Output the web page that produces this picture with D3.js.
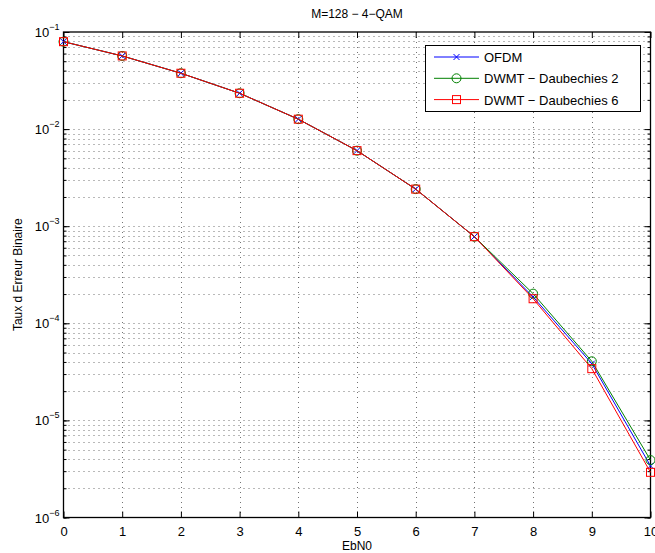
<!DOCTYPE html>
<html lang="fr">
<head>
<meta charset="UTF-8">
<title>M=128 - 4-QAM</title>
<script src="https://cdn.jsdelivr.net/npm/d3@7/dist/d3.min.js"></script>
<style>
  body { margin: 0; background: #fff; }
  svg { font-family: "Liberation Sans", Arial, sans-serif; }
  .grid line { stroke: #000; stroke-opacity: 0.55; stroke-dasharray: 1,4; }
</style>
</head>
<body>
<svg width="655" height="553"></svg>
<script>
// EbN0 values (dB)
var ebn0 = [0, 1, 2, 3, 4, 5, 6, 7, 8, 9, 10];
// bit error rate
var ofdm  = [0.0795, 0.0567, 0.0376, 0.0234, 0.01265, 0.0060, 0.00241, 7.8e-4, 1.87e-4, 3.84e-5, 3.4e-6];
var daub2 = [0.0795, 0.0567, 0.0376, 0.0234, 0.01265, 0.0060, 0.00241, 7.8e-4, 2.02e-4, 4.06e-5, 3.9e-6];
var daub6 = [0.0795, 0.0567, 0.0376, 0.0234, 0.01265, 0.0060, 0.00241, 7.8e-4, 1.79e-4, 3.41e-5, 2.92e-6];
var seriesNames = ["OFDM", "DWMT \u2212 Daubechies 2", "DWMT \u2212 Daubechies 6"];
var seriesColors = ["#0000ff", "#008000", "#ff0000"];
var seriesMarkers = ["x", "circle", "square"];
var yDecades = [-1, -2, -3, -4, -5, -6];

var svg = d3.select("svg");
var pLeft = 63.5, pRight = 650.5, pTop = 32, pBottom = 517.5;

var x = d3.scaleLinear().domain([0, 10]).range([pLeft, pRight]);
var y = d3.scaleLog().domain([1e-6, 1e-1]).range([pBottom, pTop]);

// minor ticks for the log axis
var minor = [];
for (var e = -6; e < -1; e++) {
  for (var m = 1; m < 10; m++) minor.push(m * Math.pow(10, e));
}
minor.push(1e-1);

// grid
var grid = svg.append("g").attr("class", "grid");
grid.selectAll(".gx").data(ebn0.slice(1, -1)).enter().append("line")
  .attr("x1", function(d) { return Math.round(x(d)) + 0.5; })
  .attr("x2", function(d) { return Math.round(x(d)) + 0.5; })
  .attr("y1", pTop).attr("y2", pBottom);
grid.selectAll(".gy").data(minor.slice(1, -1)).enter().append("line")
  .attr("y1", function(d) { return Math.round(y(d)) + 0.5; })
  .attr("y2", function(d) { return Math.round(y(d)) + 0.5; })
  .attr("x1", pLeft).attr("x2", pRight);

// axes (ticks inward, mirrored on the box)
var decades = yDecades.map(function(p) { return Math.pow(10, p); });
var axB = d3.axisBottom(x).tickValues(ebn0).tickSize(-6).tickPadding(9).tickFormat(d3.format("d"));
var axT = d3.axisTop(x).tickValues(ebn0).tickSize(-6).tickFormat("");
var axL = d3.axisLeft(y).tickValues(minor).tickSize(-3).tickFormat("");
var axR = d3.axisRight(y).tickValues(minor).tickSize(-3).tickFormat("");
var axL2 = d3.axisLeft(y).tickValues(decades).tickSize(-6).tickFormat("");
var axR2 = d3.axisRight(y).tickValues(decades).tickSize(-6).tickFormat("");

function styleAxis(g) {
  g.select(".domain").remove();
  g.selectAll("line").attr("stroke", "#000");
  g.selectAll("text").attr("font-size", 13).attr("fill", "#000").attr("font-family", "Liberation Sans, Arial, sans-serif");
}
svg.append("g").attr("transform", "translate(0," + pBottom + ")").call(axB).call(styleAxis);
svg.append("g").attr("transform", "translate(0," + pTop + ")").call(axT).call(styleAxis);
svg.append("g").attr("transform", "translate(" + pLeft + ",0)").call(axL).call(styleAxis);
svg.append("g").attr("transform", "translate(" + pRight + ",0)").call(axR).call(styleAxis);
svg.append("g").attr("transform", "translate(" + pLeft + ",0)").call(axL2).call(styleAxis);
svg.append("g").attr("transform", "translate(" + pRight + ",0)").call(axR2).call(styleAxis);

// box
svg.append("rect").attr("x", pLeft).attr("y", pTop).attr("width", pRight - pLeft).attr("height", pBottom - pTop)
  .attr("fill", "none").attr("stroke", "#000").attr("stroke-width", 1.3);

// y tick labels 10^n
var yl = svg.append("g").selectAll("text").data(yDecades).enter().append("text")
  .attr("x", pLeft - 4).attr("y", function(d) { return y(Math.pow(10, d)) + 5; })
  .attr("text-anchor", "end").attr("font-size", 13).attr("fill", "#000");
yl.append("tspan").text("10");
yl.append("tspan").attr("dy", -7).attr("font-size", 9).text(function(d) { return "\u2212" + (-d); });

// series
var allSeries = [ofdm, daub2, daub6];
var line = d3.line().x(function(d, i) { return x(ebn0[i]); }).y(function(d) { return y(d); });

function drawMarker(g, type, color, cx, cy) {
  if (type === "x") {
    g.append("path").attr("d", "M" + (cx - 3) + "," + (cy - 3) + "L" + (cx + 3) + "," + (cy + 3) +
      "M" + (cx - 3) + "," + (cy + 3) + "L" + (cx + 3) + "," + (cy - 3))
      .attr("stroke", color).attr("fill", "none").attr("stroke-width", 1);
  } else if (type === "circle") {
    g.append("circle").attr("cx", cx).attr("cy", cy).attr("r", 4.5)
      .attr("stroke", color).attr("fill", "none").attr("stroke-width", 1);
  } else {
    g.append("rect").attr("x", cx - 4).attr("y", cy - 4).attr("width", 8).attr("height", 8)
      .attr("stroke", color).attr("fill", "none").attr("stroke-width", 1);
  }
}

allSeries.forEach(function(vals, k) {
  var g = svg.append("g");
  g.append("path").datum(vals).attr("d", line)
    .attr("fill", "none").attr("stroke", seriesColors[k]).attr("stroke-width", 1);
  vals.forEach(function(v, i) {
    drawMarker(g, seriesMarkers[k], seriesColors[k], x(ebn0[i]), y(v));
  });
});

// legend
var lg = svg.append("g");
lg.append("rect").attr("x", 425.5).attr("y", 45.5).attr("width", 215).attr("height", 66)
  .attr("fill", "#fff").attr("stroke", "#000").attr("stroke-width", 1);
seriesNames.forEach(function(name, k) {
  var ly = 57 + k * 21.3;
  lg.append("line").attr("x1", 434).attr("x2", 479).attr("y1", ly).attr("y2", ly)
    .attr("stroke", seriesColors[k]).attr("stroke-width", 1);
  drawMarker(lg, seriesMarkers[k], seriesColors[k], 456.5, ly);
  lg.append("text").attr("x", 484).attr("y", ly + 5).attr("font-size", 13).attr("fill", "#000").text(name);
});

// titles
svg.append("text").attr("x", (pLeft + pRight) / 2).attr("y", 18).attr("text-anchor", "middle")
  .attr("font-size", 12).attr("fill", "#000").text("M=128 \u2212 4\u2212QAM");
svg.append("text").attr("x", (pLeft + pRight) / 2).attr("y", 550).attr("text-anchor", "middle")
  .attr("font-size", 12).attr("fill", "#000").text("EbN0");
svg.append("text").attr("transform", "translate(22," + ((pTop + pBottom) / 2) + ") rotate(-90)")
  .attr("text-anchor", "middle").attr("font-size", 12).attr("fill", "#000").text("Taux d Erreur Binaire");
</script>
</body>
</html>
